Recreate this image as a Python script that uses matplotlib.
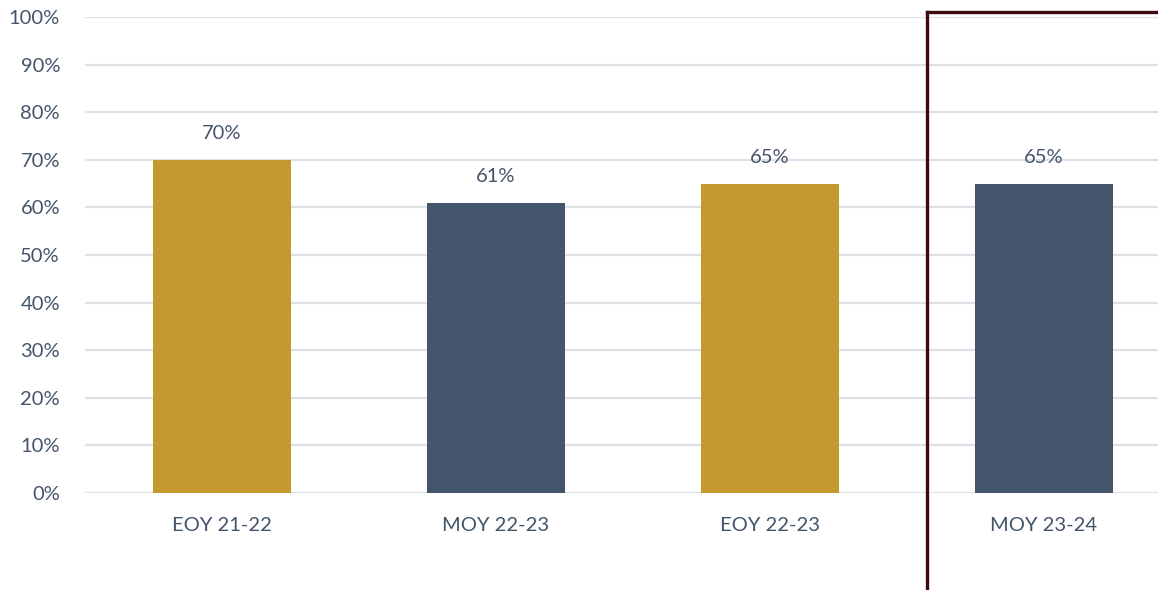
import matplotlib.pyplot as plt
from matplotlib.lines import Line2D

categories = ["EOY 21-22", "MOY 22-23", "EOY 22-23", "MOY 23-24"]
values = [70, 61, 65, 65]
bar_colors = ["#C49A2F", "#44546A", "#C49A2F", "#44546A"]

text_color = "#44546A"
plt.rcParams["font.family"] = ["Lato", "DejaVu Sans"]

fig = plt.figure(figsize=(11.58, 5.90), dpi=100)
ax = fig.add_axes([85 / 1158, 97 / 590, 1096 / 1158, 476 / 590])

x = range(len(categories))
ax.bar(x, values, width=0.504, color=bar_colors, zorder=3)
for i, v in enumerate(values):
    ax.annotate(f"{v}%", (i, v), xytext=(0, 13), textcoords="offset points",
                ha="center", va="bottom", fontsize=14.5, color=text_color)

ax.set_xlim(-0.5, 3.5)
ax.set_ylim(0, 100)
ax.set_yticks(range(0, 101, 10))
ax.set_yticklabels([f"{t}%" for t in range(0, 101, 10)])
ax.set_xticks(list(x))
ax.set_xticklabels(categories)
ax.tick_params(axis="both", length=0, labelsize=14.5, labelcolor=text_color)
ax.tick_params(axis="x", pad=17)
ax.tick_params(axis="y", pad=18)
ax.grid(axis="y", color="#DDE0E6", linewidth=1.6, zorder=0)
for s in ax.spines.values():
    s.set_visible(False)

# highlight box around the latest period
box_x = 927 / 1158
box_y = 1 - 12 / 590
fig.add_artist(Line2D([box_x, box_x], [0, box_y], color="#3D0B0E", linewidth=2.4))
fig.add_artist(Line2D([box_x, 1], [box_y, box_y], color="#3D0B0E", linewidth=2.4))

fig.savefig("out.png", dpi=100)
